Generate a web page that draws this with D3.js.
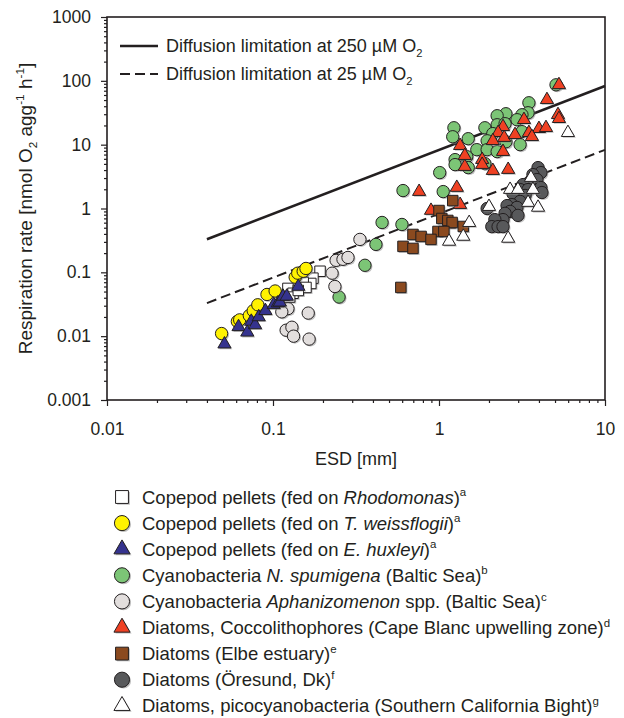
<!DOCTYPE html>
<html>
<head>
<meta charset="utf-8">
<script src="https://cdnjs.cloudflare.com/ajax/libs/d3/7.8.5/d3.min.js"></script>
<style>
  body { margin: 0; background: #fff; }
  text { font-family: "Liberation Sans", Arial, Helvetica, sans-serif; fill: #231f20; }
</style>
</head>
<body>
<div class="chart"></div>
<script>
// [ESD mm, respiration nmol O2 agg-1 h-1]
var rhodomonas = [[0.192,0.104],[0.174,0.081],[0.169,0.067],[0.152,0.069],[0.158,0.058],
  [0.123,0.056],[0.132,0.047],[0.126,0.041],[0.142,0.052]];
var weissflogii = [[0.049,0.011],[0.061,0.017],[0.063,0.018],[0.072,0.021],[0.076,0.025],
  [0.081,0.031],[0.092,0.045],[0.103,0.051],[0.136,0.084],[0.141,0.097],[0.152,0.104],[0.158,0.115]];
var huxleyi = [[0.051,0.0075],[0.062,0.014],[0.070,0.0115],[0.074,0.017],[0.078,0.015],
  [0.082,0.020],[0.090,0.025],[0.101,0.031],[0.107,0.033],[0.110,0.034],[0.115,0.042],
  [0.121,0.042],[0.142,0.060]];
var spumigena = [[5.07,86.6],[3.48,45.3],[3.44,31.6],[3.16,29.4],[2.53,30.5],[2.24,28.4],
  [2.24,20.5],[1.89,18.4],[2.50,21.3],[2.95,24.6],[3.16,16.0],[2.11,14.9],[1.95,11.5],
  [1.50,12.4],[1.23,18.4],[1.21,13.3],[1.69,8.35],[1.95,8.35],[2.24,7.78],[2.53,11.1],
  [3.08,10.0],[1.25,5.83],[1.25,4.87],[1.47,6.49],[1.89,5.05],[1.50,4.37],[1.01,3.65],
  [0.607,1.91],[1.06,1.84],[0.454,0.604],[0.598,0.562],[0.417,0.274],[0.358,0.129],[0.250,0.041]];
var aphanizomenon = [[0.334,0.328],[0.240,0.154],[0.264,0.160],[0.283,0.171],[0.227,0.097],
  [0.236,0.060],[0.163,0.023],[0.123,0.027],[0.113,0.024],[0.120,0.0124],[0.130,0.0138],
  [0.133,0.010],[0.165,0.009]];
var capeBlanc = [[5.28,86.6],[4.47,50.5],[5.21,29.4],[5.28,25.5],[3.25,24.6],[2.43,19.1],
  [2.27,15.4],[2.11,11.5],[2.47,12.9],[2.87,14.3],[3.48,15.4],[4.00,17.8],[4.41,18.4],
  [3.63,13.3],[1.34,9.65],[1.43,6.73],[1.43,4.53],[1.82,5.83],[1.82,4.87],[2.43,7.78],
  [2.11,3.92],[2.61,4.07],[1.28,2.13],[0.759,1.84],[0.895,0.93],[1.34,1.15],[1.15,0.562]];
var elbe = [[1.21,1.33],[1.00,0.93],[1.04,0.698],[1.13,0.65],[1.20,0.604],[1.40,0.523],
  [0.986,0.437],[1.07,0.437],[0.697,0.392],[0.780,0.365],[0.895,0.328],[0.607,0.255],
  [0.697,0.237],[0.589,0.058]];
var oresund = [[3.95,4.37],[4.11,3.65],[3.68,3.40],[3.89,2.84],[3.53,2.64],[3.21,2.37],
  [4.11,2.13],[4.17,1.78],[3.08,1.98],[3.44,1.98],[3.30,1.60],[2.79,1.71],[3.08,1.29],
  [2.75,1.15],[2.57,1.11],[2.95,1.04],[2.68,0.90],[2.99,0.78],[2.50,0.84],[2.43,0.67],
  [2.17,0.67],[2.08,0.52],[2.27,0.52],[2.43,0.52],[1.95,1.0]];
var californiaBight = [[5.98,15.4],[3.58,3.05],[2.68,1.98],[2.99,1.98],[3.68,1.98],[3.44,1.24],
  [3.95,1.04],[2.00,1.07],[1.52,0.60],[1.40,0.365],[1.15,0.305],[2.61,0.34]];

// diffusion limitation lines (end points)
var limit250 = [[0.04,0.33],[10,83]];
var limit25 = [[0.04,0.033],[10,8.3]];

var xTicks = [0.01, 0.1, 1, 10];
var yTicks = [0.001, 0.01, 0.1, 1, 10, 100, 1000];

var margin = {top: 17, right: 19, bottom: 318, left: 107},
    width = 624 - margin.left - margin.right,
    height = 718 - margin.top - margin.bottom;

var svg = d3.select(".chart").append("svg")
    .attr("width", 624)
    .attr("height", 718);

var plot = svg.append("g")
    .attr("transform", "translate(" + margin.left + "," + margin.top + ")");

var x = d3.scaleLog().domain([0.01, 10]).range([0, width]);
var y = d3.scaleLog().domain([0.001, 1000]).range([height, 0]);

// minor ticks 2..9 of each decade
function minors(lo, hi) {
  var out = [];
  for (var p = lo; p < hi; p++)
    for (var k = 2; k < 10; k++) out.push(k * Math.pow(10, p));
  return out;
}

plot.append("g").attr("class", "axis")
    .attr("transform", "translate(0," + height + ")")
    .call(d3.axisBottom(x).tickValues(minors(-2, 1)).tickSize(3).tickFormat(""));
plot.append("g").attr("class", "axis")
    .call(d3.axisLeft(y).tickValues(minors(-3, 3)).tickSize(3).tickFormat(""));

plot.append("g").attr("class", "axis xmajor")
    .attr("transform", "translate(0," + height + ")")
    .call(d3.axisBottom(x).tickValues(xTicks).tickSize(6).tickPadding(17).tickFormat(d3.format("~g")));
plot.append("g").attr("class", "axis ymajor")
    .call(d3.axisLeft(y).tickValues(yTicks).tickSize(6).tickPadding(10).tickFormat(d3.format("~g")));

plot.selectAll(".axis .domain").remove();
plot.selectAll(".axis line").attr("stroke", "#231f20").attr("stroke-width", 1.2);
plot.selectAll(".axis text").style("font-size", "17.5px").attr("fill", "#231f20")
    .style("font-family", '"Liberation Sans", Arial, sans-serif');

// frame
plot.append("rect")
    .attr("width", width).attr("height", height)
    .attr("fill", "none").attr("stroke", "#231f20").attr("stroke-width", 1.6);

// diffusion lines
var line = d3.line().x(function(d){ return x(d[0]); }).y(function(d){ return y(d[1]); });
plot.append("path").datum(limit250).attr("d", line)
    .attr("fill", "none").attr("stroke", "#231f20").attr("stroke-width", 2.6);
plot.append("path").datum(limit25).attr("d", line)
    .attr("fill", "none").attr("stroke", "#231f20").attr("stroke-width", 2)
    .attr("stroke-dasharray", "10,5");

// rich text helper: parts are [text, style] with style "", "i", "sup", "sub"
function rich(sel, parts, fs) {
  var shift = 0;
  parts.forEach(function(p) {
    var t = sel.append("tspan").text(p[0]);
    var target = p[1] === "sup" ? -0.4 * fs : (p[1] === "sub" ? 0.28 * fs : 0);
    if (target !== shift) { t.attr("dy", target - shift); shift = target; }
    if (p[1] === "sup" || p[1] === "sub") t.style("font-size", (fs * 0.62) + "px");
    if (p[1] === "i") t.style("font-style", "italic");
  });
}

// in-plot legend for the lines
var lineLegend = [
  {dash: null, w: 2.6, parts: [["Diffusion limitation at 250 \u00b5M O", ""], ["2", "sub"]]},
  {dash: "10,5", w: 2, parts: [["Diffusion limitation at 25 \u00b5M O", ""], ["2", "sub"]]}
];
lineLegend.forEach(function(d, i) {
  var yy = 29 + i * 28;
  plot.append("line").attr("x1", 13).attr("x2", 51).attr("y1", yy).attr("y2", yy)
      .attr("stroke", "#231f20").attr("stroke-width", d.w)
      .attr("stroke-dasharray", d.dash);
  rich(plot.append("text").attr("x", 59).attr("y", yy + 6).style("font-size", "18px"), d.parts, 18);
});

// series styles
var series = [
  {data: spumigena, type: d3.symbolCircle, size: 120, fill: "#7cc576"},
  {data: aphanizomenon, type: d3.symbolCircle, size: 120, fill: "#e2dedd"},
  {data: rhodomonas, type: d3.symbolSquare, size: 110, fill: "#ffffff"},
  {data: weissflogii, type: d3.symbolCircle, size: 120, fill: "#fff200"},
  {data: huxleyi, type: d3.symbolTriangle, size: 75, fill: "#35338e"},
  {data: capeBlanc, type: d3.symbolTriangle, size: 75, fill: "#ef4123"},
  {data: elbe, type: d3.symbolSquare, size: 110, fill: "#8b4a1f"},
  {data: oresund, type: d3.symbolCircle, size: 120, fill: "#58595b"},
  {data: californiaBight, type: d3.symbolTriangle, size: 75, fill: "#ffffff"}
];

series.forEach(function(s) {
  var g = plot.append("g");
  var sym = d3.symbol().type(s.type).size(s.size);
  g.selectAll(".shadow").data(s.data).enter().append("path")
      .attr("d", sym)
      .attr("transform", function(d){ return "translate(" + (x(d[0]) + 1.3) + "," + (y(d[1]) + 1.3) + ")"; })
      .attr("fill", "#8a8a8a").attr("opacity", 0.55);
  g.selectAll(".mark").data(s.data).enter().append("path")
      .attr("d", sym)
      .attr("transform", function(d){ return "translate(" + x(d[0]) + "," + y(d[1]) + ")"; })
      .attr("fill", s.fill).attr("stroke", "#231f20").attr("stroke-width", 1);
});

// axis titles
svg.append("text")
    .attr("x", margin.left + width / 2).attr("y", 465)
    .attr("text-anchor", "middle").style("font-size", "18px")
    .text("ESD [mm]");

var ylab = svg.append("text")
    .attr("transform", "translate(32," + (margin.top + height / 2) + ") rotate(-90)")
    .attr("text-anchor", "middle").style("font-size", "19px");
rich(ylab, [["Respiration rate [nmol O", ""], ["2", "sub"], [" agg", ""], ["-1", "sup"],
  [" h", ""], ["-1", "sup"], ["]", ""]], 19);

// bottom legend
var legendItems = [
  {s: 2, parts: [["Copepod pellets (fed on ", ""], ["Rhodomonas", "i"], [")", ""], ["a", "sup"]]},
  {s: 3, parts: [["Copepod pellets (fed on ", ""], ["T. weissflogii", "i"], [")", ""], ["a", "sup"]]},
  {s: 4, parts: [["Copepod pellets (fed on ", ""], ["E. huxleyi", "i"], [")", ""], ["a", "sup"]]},
  {s: 0, parts: [["Cyanobacteria ", ""], ["N. spumigena", "i"], [" (Baltic Sea)", ""], ["b", "sup"]]},
  {s: 1, parts: [["Cyanobacteria ", ""], ["Aphanizomenon", "i"], [" spp. (Baltic Sea)", ""], ["c", "sup"]]},
  {s: 5, parts: [["Diatoms, Coccolithophores (Cape Blanc upwelling zone)", ""], ["d", "sup"]]},
  {s: 6, parts: [["Diatoms (Elbe estuary)", ""], ["e", "sup"]]},
  {s: 7, parts: [["Diatoms (\u00d6resund, Dk)", ""], ["f", "sup"]]},
  {s: 8, parts: [["Diatoms, picocyanobacteria (Southern California Bight)", ""], ["g", "sup"]]}
];

var legend = svg.append("g").attr("class", "legend");
legendItems.forEach(function(d, i) {
  var s = series[d.s];
  var cy = 497 + i * 26.1;
  var sym = d3.symbol().type(s.type).size(s.size * 1.5);
  legend.append("path").attr("d", sym)
      .attr("transform", "translate(123.5," + (cy + 1.3) + ")")
      .attr("fill", "#8a8a8a").attr("opacity", 0.55);
  legend.append("path").attr("d", sym)
      .attr("transform", "translate(122," + cy + ")")
      .attr("fill", s.fill).attr("stroke", "#231f20").attr("stroke-width", 1);
  rich(legend.append("text").attr("x", 142).attr("y", cy + 6.5).style("font-size", "18.5px"), d.parts, 18.5);
});
</script>
</body>
</html>
